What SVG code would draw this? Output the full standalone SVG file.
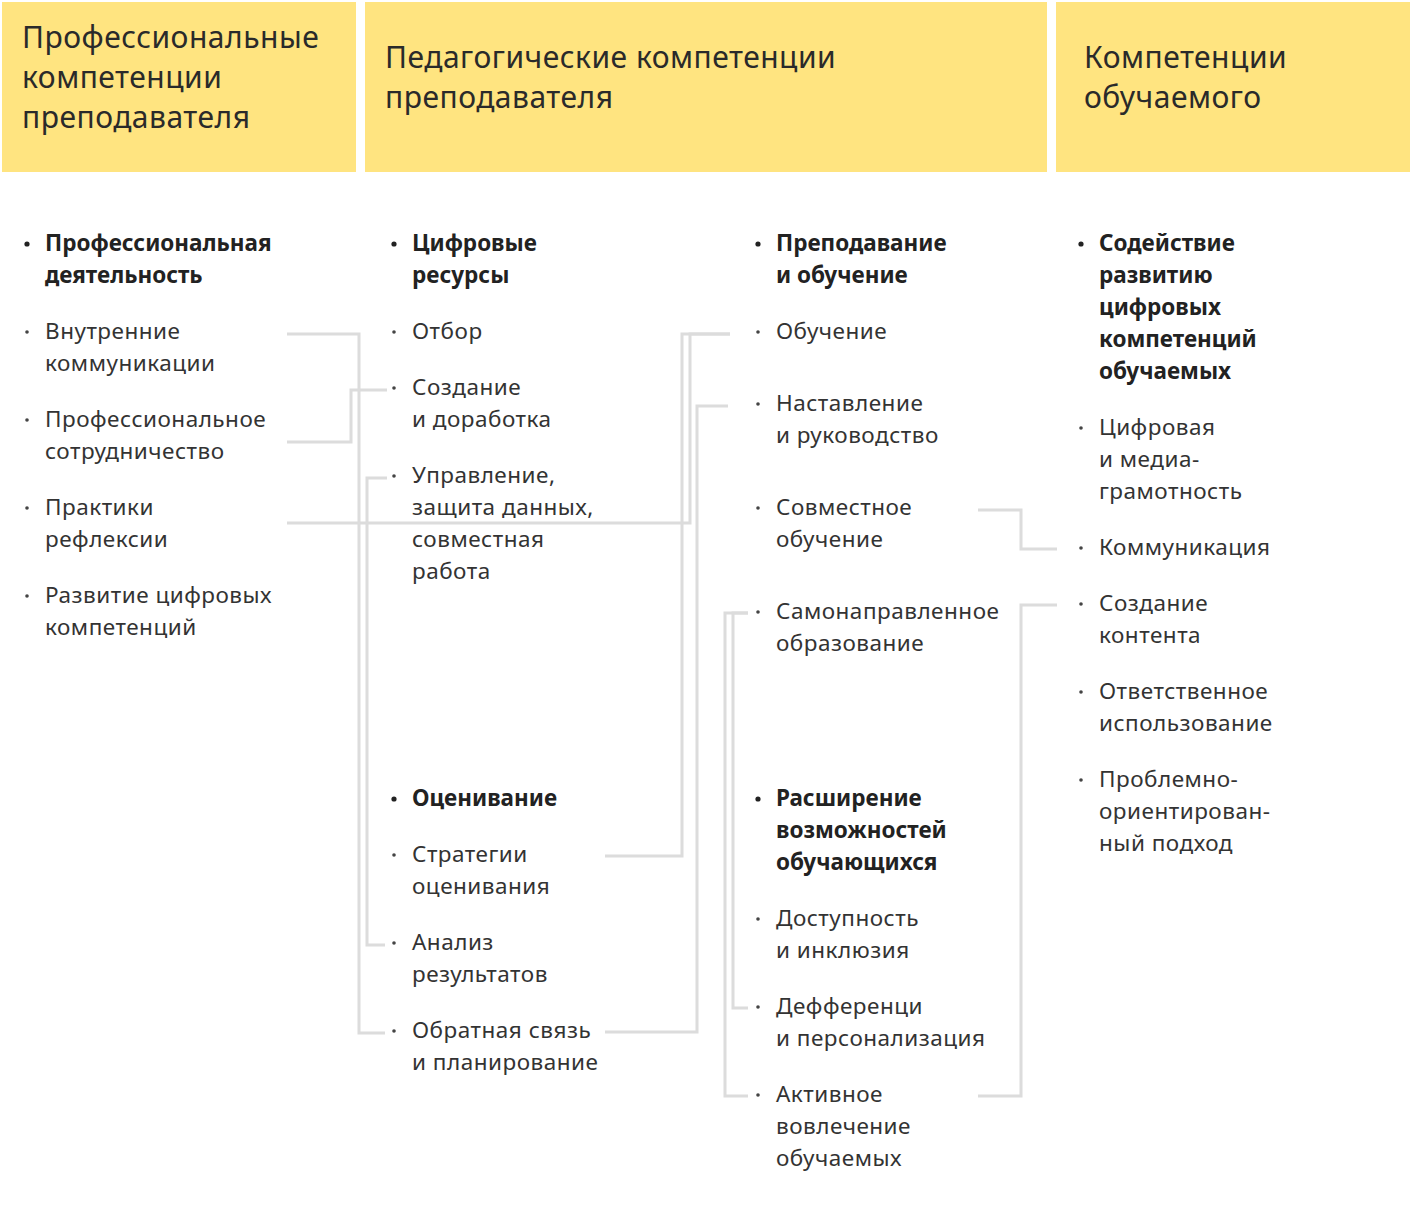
<svg xmlns="http://www.w3.org/2000/svg" width="1410" height="1205" viewBox="0 0 1410 1205">
<style>
.hdr{fill:#ffe480}
.ht{font-family:"Noto Sans","Liberation Sans",sans-serif;font-size:30px;letter-spacing:0.5px;fill:#2a2a2a}
.t{font-family:"Noto Sans","Liberation Sans",sans-serif;font-size:22.5px;letter-spacing:0.5px;fill:#333}
.b{font-weight:bold;letter-spacing:0;fill:#222}
.d{fill:#444}
.db{fill:#222}
.c{fill:none;stroke:#dcdcdc;stroke-width:3}
</style>
<rect width="1410" height="1205" fill="#fff"/>
<g id="header-prof">
<rect class="hdr" x="2" y="2" width="354" height="170"/>
<text class="ht" x="22" y="48">Профессиональные</text>
<text class="ht" x="22" y="88">компетенции</text>
<text class="ht" x="22" y="128">преподавателя</text>
</g>
<g id="header-ped">
<rect class="hdr" x="365" y="2" width="682" height="170"/>
<text class="ht" x="385" y="68">Педагогические компетенции</text>
<text class="ht" x="385" y="108">преподавателя</text>
</g>
<g id="header-stud">
<rect class="hdr" x="1056" y="2" width="354" height="170"/>
<text class="ht" x="1084" y="68">Компетенции</text>
<text class="ht" x="1084" y="108">обучаемого</text>
</g>
<g id="connectors">
<path class="c" d="M287,334 H359 V1033 H385"/>
<path class="c" d="M287,442 H351 V390 H387"/>
<path class="c" d="M387,478 H367 V945 H385"/>
<path class="c" d="M287,523 H690 V334 H730"/>
<path class="c" d="M605,856 H682 V334 H730"/>
<path class="c" d="M605,1032 H697 V406 H728"/>
<path class="c" d="M748,1008 H733 V613 H748"/>
<path class="c" d="M748,1096 H725 V613 H748"/>
<path class="c" d="M978,510 H1021 V549 H1057"/>
<path class="c" d="M978,1096 H1021 V605 H1057"/>
</g>
<g id="col1">
<g id="n-prof-deyat"><circle class="db" cx="27" cy="244" r="2.6"/><text class="t b" x="45" y="251">Профессиональная</text><text class="t b" x="45" y="283">деятельность</text></g>
<g id="n-vnutr"><circle class="d" cx="27" cy="332" r="1.8"/><text class="t" x="45" y="339">Внутренние</text><text class="t" x="45" y="371">коммуникации</text></g>
<g id="n-sotr"><circle class="d" cx="27" cy="420" r="1.8"/><text class="t" x="45" y="427">Профессиональное</text><text class="t" x="45" y="459">сотрудничество</text></g>
<g id="n-refl"><circle class="d" cx="27" cy="508" r="1.8"/><text class="t" x="45" y="515">Практики</text><text class="t" x="45" y="547">рефлексии</text></g>
<g id="n-razv"><circle class="d" cx="27" cy="596" r="1.8"/><text class="t" x="45" y="603">Развитие цифровых</text><text class="t" x="45" y="635">компетенций</text></g>
</g>
<g id="col2">
<g id="n-cifr-res"><circle class="db" cx="394" cy="244" r="2.6"/><text class="t b" x="412" y="251">Цифровые</text><text class="t b" x="412" y="283">ресурсы</text></g>
<g id="n-otbor"><circle class="d" cx="394" cy="332" r="1.8"/><text class="t" x="412" y="339">Отбор</text></g>
<g id="n-sozd"><circle class="d" cx="394" cy="388" r="1.8"/><text class="t" x="412" y="395">Создание</text><text class="t" x="412" y="427">и доработка</text></g>
<g id="n-upr"><circle class="d" cx="394" cy="476" r="1.8"/><text class="t" x="412" y="483">Управление,</text><text class="t" x="412" y="515">защита данных,</text><text class="t" x="412" y="547">совместная</text><text class="t" x="412" y="579">работа</text></g>
<g id="n-ocen"><circle class="db" cx="394" cy="799" r="2.6"/><text class="t b" x="412" y="806">Оценивание</text></g>
<g id="n-strat"><circle class="d" cx="394" cy="855" r="1.8"/><text class="t" x="412" y="862">Стратегии</text><text class="t" x="412" y="894">оценивания</text></g>
<g id="n-anal"><circle class="d" cx="394" cy="943" r="1.8"/><text class="t" x="412" y="950">Анализ</text><text class="t" x="412" y="982">результатов</text></g>
<g id="n-obr"><circle class="d" cx="394" cy="1031" r="1.8"/><text class="t" x="412" y="1038">Обратная связь</text><text class="t" x="412" y="1070">и планирование</text></g>
</g>
<g id="col3">
<g id="n-prep"><circle class="db" cx="758" cy="244" r="2.6"/><text class="t b" x="776" y="251">Преподавание</text><text class="t b" x="776" y="283">и обучение</text></g>
<g id="n-obuch"><circle class="d" cx="758" cy="332" r="1.8"/><text class="t" x="776" y="339">Обучение</text></g>
<g id="n-nast"><circle class="d" cx="758" cy="404" r="1.8"/><text class="t" x="776" y="411">Наставление</text><text class="t" x="776" y="443">и руководство</text></g>
<g id="n-sovm"><circle class="d" cx="758" cy="508" r="1.8"/><text class="t" x="776" y="515">Совместное</text><text class="t" x="776" y="547">обучение</text></g>
<g id="n-samo"><circle class="d" cx="758" cy="612" r="1.8"/><text class="t" x="776" y="619">Самонаправленное</text><text class="t" x="776" y="651">образование</text></g>
<g id="n-rassh"><circle class="db" cx="758" cy="799" r="2.6"/><text class="t b" x="776" y="806">Расширение</text><text class="t b" x="776" y="838">возможностей</text><text class="t b" x="776" y="870">обучающихся</text></g>
<g id="n-dost"><circle class="d" cx="758" cy="919" r="1.8"/><text class="t" x="776" y="926">Доступность</text><text class="t" x="776" y="958">и инклюзия</text></g>
<g id="n-diff"><circle class="d" cx="758" cy="1007" r="1.8"/><text class="t" x="776" y="1014">Дефференци</text><text class="t" x="776" y="1046">и персонализация</text></g>
<g id="n-aktiv"><circle class="d" cx="758" cy="1095" r="1.8"/><text class="t" x="776" y="1102">Активное</text><text class="t" x="776" y="1134">вовлечение</text><text class="t" x="776" y="1166">обучаемых</text></g>
</g>
<g id="col4">
<g id="n-sodey"><circle class="db" cx="1081" cy="244" r="2.6"/><text class="t b" x="1099" y="251">Содействие</text><text class="t b" x="1099" y="283">развитию</text><text class="t b" x="1099" y="315">цифровых</text><text class="t b" x="1099" y="347">компетенций</text><text class="t b" x="1099" y="379">обучаемых</text></g>
<g id="n-media"><circle class="d" cx="1081" cy="428" r="1.8"/><text class="t" x="1099" y="435">Цифровая</text><text class="t" x="1099" y="467">и медиа-</text><text class="t" x="1099" y="499">грамотность</text></g>
<g id="n-komm"><circle class="d" cx="1081" cy="548" r="1.8"/><text class="t" x="1099" y="555">Коммуникация</text></g>
<g id="n-kont"><circle class="d" cx="1081" cy="604" r="1.8"/><text class="t" x="1099" y="611">Создание</text><text class="t" x="1099" y="643">контента</text></g>
<g id="n-otv"><circle class="d" cx="1081" cy="692" r="1.8"/><text class="t" x="1099" y="699">Ответственное</text><text class="t" x="1099" y="731">использование</text></g>
<g id="n-probl"><circle class="d" cx="1081" cy="780" r="1.8"/><text class="t" x="1099" y="787">Проблемно-</text><text class="t" x="1099" y="819">ориентирован-</text><text class="t" x="1099" y="851">ный подход</text></g>
</g>
</svg>
